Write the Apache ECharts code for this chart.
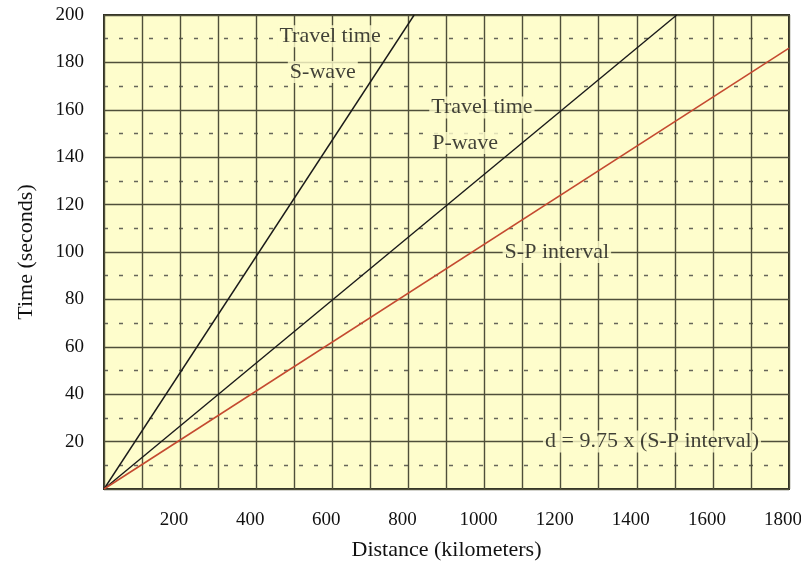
<!DOCTYPE html>
<html>
<head>
<meta charset="utf-8">
<script src="https://cdn.jsdelivr.net/npm/echarts@6/dist/echarts.min.js"></script>
<style>
html,body{margin:0;padding:0;background:#fff;}
#c{width:801px;height:568px;}
</style>
</head>
<body>
<div id="c"></div>
<script>
// Data
const sWaveDist = [0, 815];
const sWaveTime = [0, 200];
const pWaveDist = [0, 1505];
const pWaveTime = [0, 200];
const spDist = [0, 1800];
const spTime = [0, 186];

const xTicks = [200, 400, 600, 800, 1000, 1200, 1400, 1600, 1800];
const yTicks = [20, 40, 60, 80, 100, 120, 140, 160, 180, 200];

const noteTexts = ['Travel time', 'S-wave', 'Travel time', 'P-wave', 'S-P interval', 'd = 9.75 x (S-P interval)'];
const noteDist = [594, 575, 993, 949, 1190, 1440];
const noteTime = [191, 176, 161, 146, 100, 20];

const FONT = 'Liberation Serif';
const zip = (a, b) => a.map((v, i) => [v, b[i]]);

const chart = echarts.init(document.getElementById('c'), null, {renderer: 'canvas'});
chart.setOption({
  animation: false,
  backgroundColor: '#ffffff',
  grid: {
    left: 104, top: 15, right: 12, bottom: 79,
    outerBoundsMode: 'none', containLabel: false,
    show: true, backgroundColor: '#fefdcc', borderColor: '#2e2e22', borderWidth: 2
  },
  xAxis: {
    type: 'value', min: 0, max: 1800, interval: 200,
    name: 'Distance (kilometers)', nameLocation: 'middle', nameGap: 50,
    nameTextStyle: {fontFamily: FONT, fontSize: 22, color: '#111'},
    axisLine: {show: false}, axisTick: {show: false},
    axisLabel: {
      margin: 22, fontFamily: FONT, fontSize: 19, color: '#111', padding: [0, 12, 0, 0],
      formatter: v => xTicks.indexOf(v) >= 0 ? String(v) : ''
    },
    splitLine: {show: true, lineStyle: {color: '#4f4f3a', width: 1.4}},
    minorTick: {show: false, splitNumber: 2},
    minorSplitLine: {show: true, lineStyle: {color: '#4f4f3a', width: 1.4}}
  },
  yAxis: {
    type: 'value', min: 0, max: 200, interval: 20,
    name: 'Time (seconds)', nameLocation: 'middle', nameGap: 67, nameRotate: 90,
    nameTextStyle: {fontFamily: FONT, fontSize: 22, color: '#111'},
    axisLine: {show: false}, axisTick: {show: false},
    axisLabel: {
      margin: 20, fontFamily: FONT, fontSize: 19, color: '#111',
      formatter: v => yTicks.indexOf(v) >= 0 ? String(v) : ''
    },
    splitLine: {show: true, lineStyle: {color: '#4f4f3a', width: 1.4}},
    minorTick: {show: false, splitNumber: 2},
    minorSplitLine: {show: true, lineStyle: {color: '#66665a', width: 1.3, type: [4, 11]}}
  },
  series: [
    {type: 'line', data: zip(sWaveDist, sWaveTime), symbol: 'none', z: 5,
     lineStyle: {color: '#1a1a1a', width: 1.4}},
    {type: 'line', data: zip(pWaveDist, pWaveTime), symbol: 'none', z: 5,
     lineStyle: {color: '#1a1a1a', width: 1.4}},
    {type: 'line', data: zip(spDist, spTime), symbol: 'none', z: 5,
     lineStyle: {color: '#c44a30', width: 1.6}},
    {type: 'scatter', symbolSize: 0, z: 10, silent: true,
     data: noteTexts.map((t, i) => ({value: [noteDist[i], noteTime[i]], name: t})),
     label: {
       show: true, position: 'inside', formatter: p => p.name,
       fontFamily: FONT, fontSize: 22, color: '#111',
       backgroundColor: '#fefdcc', padding: [0, 2]
     }}
  ]
});
</script>
</body>
</html>
